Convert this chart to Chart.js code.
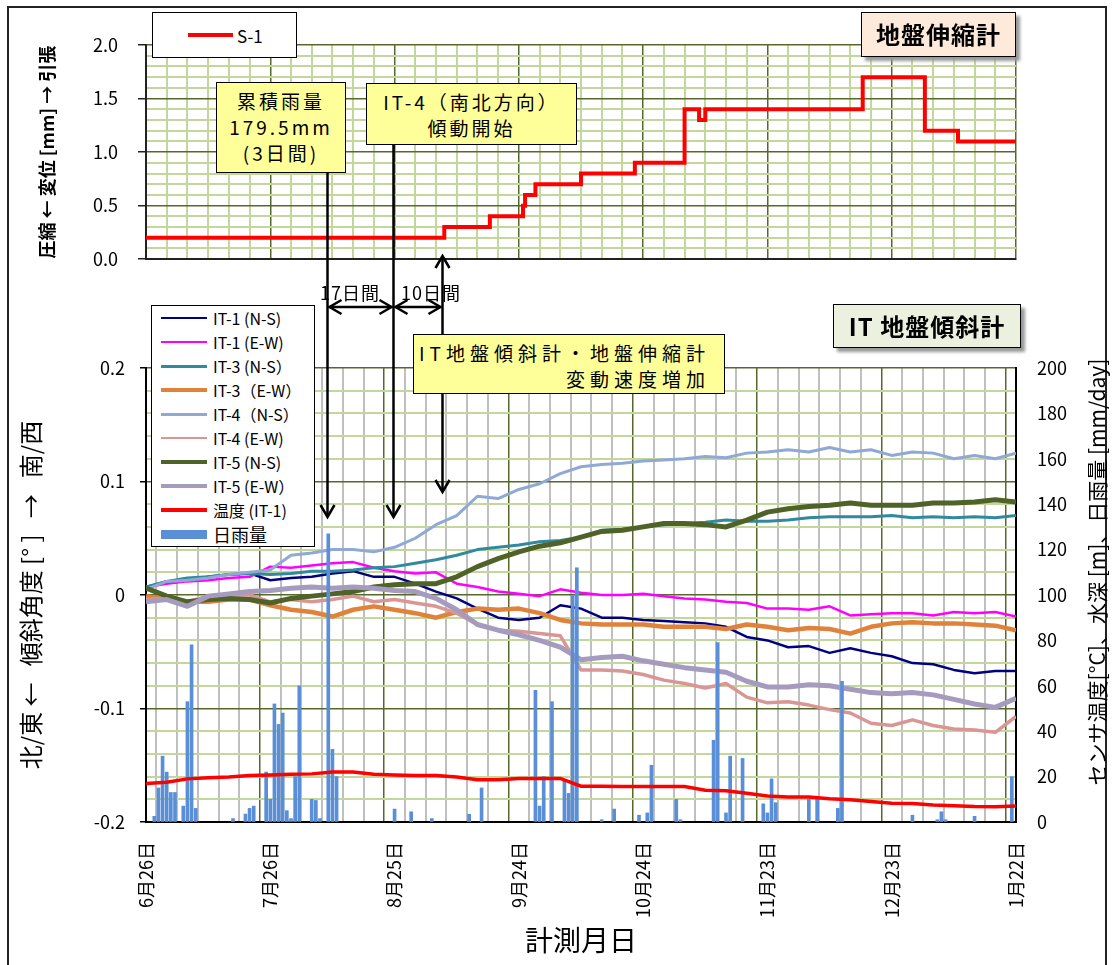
<!DOCTYPE html>
<html lang="ja">
<head>
<meta charset="utf-8">
<title>地盤伸縮計・IT 地盤傾斜計</title>
<script src="https://cdn.jsdelivr.net/npm/chart.js@4.4.1/dist/chart.umd.min.js"></script>
<style>
  html, body { margin: 0; padding: 0; background: #fff; }
  body { font-family: 'Noto Sans CJK JP', 'Noto Sans', sans-serif; color: #000; }
  #page { position: relative; width: 1115px; height: 965px; overflow: hidden; }
  .frame { position: absolute; left: 7px; top: 6px; width: 1100px; height: 990px; border: 2px solid #222; box-sizing: border-box; }
  canvas { position: absolute; left: 0; }
  #topChart { top: 0; }
  #itChart { top: 300px; }
  #overlay { top: 0; pointer-events: none; }
  .box { position: absolute; box-sizing: border-box; border: 1.5px solid #000; background: #fff; }
  .note { background: #FFFF99; text-align: center; font-size: 19px; letter-spacing: 3px; line-height: 26px; padding-top: 5px; }
  .title { font-weight: bold; font-size: 24px; text-align: center; line-height: 42px; letter-spacing: 1px; box-shadow: 4px 4px 3px #999; }
  .legend-row { height: 24px; display: flex; align-items: center; font-size: 16px; white-space: nowrap; }
  .sample { display: inline-block; width: 46px; margin-right: 6px; }
  .span-label { position: absolute; font-size: 18px; letter-spacing: 1px; transform: translate(-50%, -50%); white-space: nowrap; }
  #rightTitle { position: absolute; left: 796px; top: 558px; width: 600px; height: 28px; line-height: 28px;
                font-size: 21px; text-align: center; white-space: nowrap; transform: rotate(-90deg); }
</style>
</head>
<body>
<div id="page">
  <div class="frame"></div>
  <canvas id="topChart" width="1115" height="290"></canvas>
  <canvas id="itChart" width="1115" height="665"></canvas>
  <canvas id="overlay" width="1115" height="965"></canvas>

  <div class="box" id="legendTop" style="left:152px;top:12px;width:145px;height:46px;"></div>
  <div class="box title" style="left:861px;top:12px;width:155px;height:45px;background:#FDEADA;">地盤伸縮計</div>
  <div class="box title" style="left:833px;top:304px;width:188px;height:44px;background:#EBF1DE;">IT 地盤傾斜計</div>
  <div class="box" id="legendIT" style="left:151px;top:305px;width:164px;height:242px;padding-left:9px;"></div>

  <div class="box note" style="left:216px;top:82px;width:130px;height:91px;">累積雨量<br>179.5mm<br>(3日間)</div>
  <div class="box note" style="left:366px;top:83px;width:211px;height:62px;">IT-4（南北方向）<br>傾動開始</div>
  <div class="box note" style="left:413px;top:334px;width:312px;height:60px;text-align:right;padding-right:14px;letter-spacing:5px;">IT地盤傾斜計・地盤伸縮計<br>変動速度増加</div>

  <div class="span-label" style="left:350px;top:292px;">17日間</div>
  <div class="span-label" style="left:431px;top:292px;">10日間</div>
  <div id="rightTitle">センサ温度[°C]、水深 [m]、日雨量 [mm/day]</div>
</div>

<script>
/* ---------- data (x = days since 6/26) ---------- */
const tickLabels = ['6月26日', '7月26日', '8月25日', '9月24日', '10月24日', '11月23日', '12月23日', '1月22日'];

// S-1 ground extensometer, step changes
const s1Days   = [0, 72, 83, 91, 91.5, 94, 105, 118, 130, 133.5, 135, 173, 188, 196, 210];
const s1Values = [0.2, 0.3, 0.4, 0.5, 0.6, 0.7, 0.8, 0.9, 1.4, 1.3, 1.4, 1.7, 1.2, 1.1, 1.1];

// IT inclinometers, read every 5 days
const sampleDays = [0, 5, 10, 15, 20, 25, 30, 35, 40, 45, 50, 55, 60, 65, 70, 75, 80, 85, 90, 95, 100,
  105, 110, 115, 120, 125, 130, 135, 140, 145, 150, 155, 160, 165, 170, 175, 180, 185, 190, 195, 200, 205, 210];

const it1NS = [0.007, 0.012, 0.013, 0.016, 0.018, 0.019, 0.013, 0.015, 0.016, 0.019, 0.021, 0.016, 0.016, 0.010, 0.003,
  -0.003, -0.012, -0.020, -0.022, -0.020, -0.009, -0.012, -0.020, -0.020, -0.022, -0.023, -0.024, -0.025, -0.028,
  -0.037, -0.040, -0.046, -0.045, -0.051, -0.047, -0.051, -0.054, -0.060, -0.061, -0.066, -0.069, -0.067, -0.067];
const it1EW = [0.007, 0.010, 0.012, 0.013, 0.015, 0.016, 0.025, 0.024, 0.026, 0.028, 0.029, 0.024, 0.021, 0.019, 0.020,
  0.010, 0.007, 0.003, 0.001, -0.001, 0.005, 0.002, 0.000, 0.000, 0.001, -0.001, -0.003, -0.004, -0.006,
  -0.007, -0.012, -0.012, -0.013, -0.010, -0.018, -0.017, -0.016, -0.016, -0.018, -0.015, -0.016, -0.015, -0.019];
const it3NS = [0.007, 0.012, 0.015, 0.016, 0.018, 0.019, 0.018, 0.019, 0.021, 0.021, 0.022, 0.024, 0.025, 0.028, 0.031,
  0.035, 0.040, 0.042, 0.044, 0.047, 0.048, 0.051, 0.057, 0.058, 0.060, 0.062, 0.063, 0.064, 0.066,
  0.065, 0.065, 0.066, 0.068, 0.069, 0.069, 0.069, 0.070, 0.068, 0.069, 0.068, 0.069, 0.068, 0.070];
const it3EW = [-0.001, -0.004, -0.006, -0.006, -0.004, -0.004, -0.009, -0.013, -0.015, -0.019, -0.013, -0.010, -0.013, -0.016, -0.020,
  -0.015, -0.012, -0.013, -0.012, -0.016, -0.022, -0.025, -0.026, -0.026, -0.026, -0.028, -0.028, -0.028, -0.030,
  -0.026, -0.028, -0.031, -0.029, -0.030, -0.034, -0.028, -0.025, -0.024, -0.025, -0.025, -0.026, -0.027, -0.031];
const it4NS = [0.005, 0.012, 0.013, 0.015, 0.018, 0.020, 0.022, 0.035, 0.037, 0.040, 0.040, 0.038, 0.042, 0.050, 0.062,
  0.070, 0.087, 0.085, 0.093, 0.098, 0.107, 0.113, 0.115, 0.116, 0.118, 0.119, 0.120, 0.122, 0.121,
  0.125, 0.126, 0.128, 0.126, 0.130, 0.126, 0.128, 0.123, 0.126, 0.125, 0.120, 0.123, 0.120, 0.125];
const it4EW = [-0.004, -0.003, -0.006, -0.001, 0.000, 0.000, -0.006, -0.004, -0.006, -0.004, -0.001, -0.006, -0.004, -0.007, -0.010,
  -0.016, -0.026, -0.031, -0.032, -0.034, -0.036, -0.066, -0.066, -0.067, -0.070, -0.075, -0.078, -0.082, -0.078,
  -0.090, -0.095, -0.094, -0.097, -0.101, -0.104, -0.113, -0.115, -0.110, -0.115, -0.118, -0.119, -0.121, -0.107];
const it5NS = [0.006, -0.001, -0.006, -0.004, -0.003, -0.004, -0.007, -0.003, -0.001, 0.001, 0.003, 0.007, 0.009, 0.010, 0.010,
  0.016, 0.025, 0.032, 0.038, 0.043, 0.046, 0.051, 0.056, 0.057, 0.060, 0.063, 0.063, 0.062, 0.060,
  0.066, 0.073, 0.076, 0.078, 0.079, 0.081, 0.079, 0.079, 0.079, 0.081, 0.081, 0.082, 0.084, 0.082];
const it5EW = [-0.006, -0.004, -0.010, -0.001, 0.001, 0.003, 0.004, 0.006, 0.007, 0.006, 0.007, 0.006, 0.004, 0.003, -0.003,
  -0.013, -0.026, -0.031, -0.035, -0.040, -0.046, -0.057, -0.055, -0.054, -0.058, -0.061, -0.064, -0.066, -0.068,
  -0.076, -0.081, -0.081, -0.079, -0.080, -0.083, -0.086, -0.087, -0.086, -0.088, -0.092, -0.096, -0.099, -0.091];

// sensor temperature (right axis)
const tempIT1 = [17, 17.5, 19, 19.5, 19.8, 20.5, 20.7, 21, 21.2, 22, 22, 21, 20.7, 20.5, 20.5,
  19.8, 18.6, 18.6, 19.2, 19.2, 19.2, 15.8, 15.8, 15.6, 15.6, 15.6, 15.6, 14, 13.8,
  12.7, 11.5, 11, 11, 10.2, 9.8, 9, 8.3, 8.2, 7.5, 7.2, 6.8, 6.7, 7];

// daily rainfall (right axis), only rainy days
const rainDays = [2, 3, 4, 5, 6, 7, 9, 10, 11, 12, 21, 24, 25, 26, 29, 30, 31, 32, 33, 34,
  35, 36, 37, 40, 41, 42, 44, 45, 46, 60, 64, 69, 78, 81, 94, 95, 96, 98, 101, 102,
  103, 104, 110, 113, 119, 121, 122, 128, 129, 137, 138, 140, 141, 144, 149, 150, 151, 152, 160, 162,
  167, 168, 185, 191, 192, 193, 200, 209];
const rainValues = [2.5, 15, 29, 22, 13, 13, 7, 53, 78, 6, 1.5, 3.5, 6, 7, 22, 10, 52, 43, 48, 5,
  1.5, 20, 60, 10, 9.5, 1.5, 127, 32, 20, 5.7, 4.5, 1.5, 3.4, 15, 58, 7, 20, 53, 18, 12.6,
  100, 112, 1, 5.7, 3, 4, 25, 10, 1, 36, 79, 4, 29, 28, 8, 4, 19, 8.5, 10, 10,
  6, 62, 3, 1, 4.5, 1, 2.5, 20];

// annotation days: rain peak, IT-4 tilt start, speed increase
const markerDays = [43.8, 59.7, 71.4];

/* ---------- series styling ---------- */
const seriesNames  = ['IT-1 (N-S)', 'IT-1 (E-W)', 'IT-3 (N-S）', 'IT-3（E-W）', 'IT-4（N-S）', 'IT-4 (E-W)', 'IT-5 (N-S)', 'IT-5 (E-W）'];
const seriesData   = [it1NS, it1EW, it3NS, it3EW, it4NS, it4EW, it5NS, it5EW];
const seriesColors = ['#000080', '#FF00FF', '#31899E', '#E0823A', '#8FA9D4', '#D99694', '#4F6228', '#A59BBF'];
const seriesWidths = [2.5, 2.5, 3, 4.5, 3, 3.5, 5, 5];
const legendWidths = [2, 2, 3, 4, 3, 2, 4, 4];
const tempColor = '#FF0000';
const rainColor = '#5A8FD8';

const majorGreen = '#56692B';
const minorGreen = '#C4D79B';
const minorGrey = '#BFBFBF';

Chart.defaults.font.family = "'Noto Sans CJK JP', 'Noto Sans', sans-serif";
Chart.defaults.color = '#000';

const pts = (xs, ys) => xs.map((x, i) => ({ x, y: ys[i] }));
const isMajorDay = c => c.tick && c.tick.value % 30 === 0;

/* ---------- top chart: 地盤伸縮計 ---------- */
const topChart = new Chart(document.getElementById('topChart'), {
  type: 'line',
  data: {
    datasets: [{
      label: 'S-1',
      data: pts(s1Days, s1Values),
      borderColor: tempColor,
      borderWidth: 4,
      pointRadius: 0,
      stepped: true
    }]
  },
  options: {
    responsive: false,
    animation: false,
    layout: { padding: { left: 32, top: 45, right: 99, bottom: 0 } },
    plugins: { legend: { display: false }, tooltip: { enabled: false } },
    scales: {
      x: {
        type: 'linear', min: 0, max: 210,
        afterFit: s => { s.height = 20; },
        ticks: { display: false, stepSize: 5, autoSkip: false },
        grid: {
          drawTicks: false,
          color: c => isMajorDay(c) ? majorGreen : minorGreen,
          lineWidth: c => isMajorDay(c) ? 1.5 : 2
        },
        border: { color: '#222', width: 2 }
      },
      y: {
        min: 0, max: 2,
        afterFit: s => { s.width = 114; },
        ticks: {
          stepSize: 0.1, autoSkip: false, padding: 20, font: { size: 18 },
          callback: v => Math.round(v * 10) % 5 === 0 ? v.toFixed(1) : ''
        },
        grid: {
          tickLength: 8,
          color: c => c.tick && Math.round(c.tick.value * 10) % 5 === 0 ? majorGreen : minorGreen,
          tickColor: c => c.tick && Math.round(c.tick.value * 10) % 5 === 0 ? '#222' : 'rgba(0,0,0,0)',
          lineWidth: c => c.tick && Math.round(c.tick.value * 10) % 5 === 0 ? 1.5 : 2
        },
        border: { color: '#222', width: 2 },
        title: { display: true, text: '圧縮 ← 変位 [mm] → 引張', font: { size: 18, weight: 'bold' } }
      }
    }
  }
});

/* ---------- bottom chart: IT 地盤傾斜計 ---------- */
const itDatasets = seriesNames.map((name, i) => ({
  type: 'line',
  label: name,
  data: pts(sampleDays, seriesData[i]),
  borderColor: seriesColors[i],
  borderWidth: seriesWidths[i],
  pointRadius: 0,
  borderJoinStyle: 'round',
  yAxisID: 'y',
  order: 9 - i
}));

itDatasets.push({
  type: 'line',
  label: '温度 (IT-1)',
  data: pts(sampleDays, tempIT1),
  borderColor: tempColor,
  borderWidth: 3.5,
  pointRadius: 0,
  yAxisID: 'y2',
  order: 0
});

itDatasets.push({
  type: 'bar',
  label: '日雨量',
  data: pts(rainDays, rainValues),
  backgroundColor: rainColor,
  barThickness: 3,
  yAxisID: 'y2',
  order: 1
});

const itChart = new Chart(document.getElementById('itChart'), {
  type: 'line',
  data: { datasets: itDatasets },
  options: {
    responsive: false,
    animation: false,
    layout: { padding: { left: 12, top: 68, right: 0, bottom: 0 } },
    plugins: { legend: { display: false }, tooltip: { enabled: false } },
    scales: {
      x: {
        type: 'linear', min: 0, max: 210, offset: false,
        afterFit: s => { s.height = 143; },
        ticks: {
          stepSize: 5, autoSkip: false, minRotation: 90, maxRotation: 90, padding: 20,
          font: { size: 18 },
          callback: v => v % 30 === 0 ? tickLabels[v / 30] : ''
        },
        grid: {
          drawTicks: false,
          color: c => isMajorDay(c) ? majorGreen : minorGrey,
          lineWidth: c => isMajorDay(c) ? 1.5 : 2
        },
        border: { color: '#000', width: 2 },
        title: { display: true, text: '計測月日', font: { size: 28 }, padding: { top: 0, bottom: 8 } }
      },
      y: {
        position: 'left', min: -0.2, max: 0.2,
        afterFit: s => { s.width = 134; },
        ticks: {
          stepSize: 0.02, autoSkip: false, padding: 15, font: { size: 18 },
          callback: v => {
            const r = Math.round(v * 100);
            return r % 10 === 0 ? (r === 0 ? '0' : (r / 100).toFixed(1)) : '';
          }
        },
        grid: {
          tickLength: 6,
          color: c => c.tick && Math.round(c.tick.value * 100) % 10 === 0 ? majorGreen : minorGreen,
          tickColor: c => c.tick && Math.round(c.tick.value * 100) % 10 === 0 ? '#000' : 'rgba(0,0,0,0)',
          lineWidth: c => c.tick && Math.round(c.tick.value * 100) % 10 === 0 ? 1.5 : 2
        },
        border: { color: '#000', width: 2 },
        title: { display: true, text: '北/東 ←   傾斜角度 [° ]   →   南/西', font: { size: 24 } }
      },
      y2: {
        position: 'right', min: 0, max: 200,
        afterFit: s => { s.width = 99; },
        ticks: { stepSize: 20, padding: 21, font: { size: 18 } },
        grid: { drawOnChartArea: false, drawTicks: false },
        border: { color: '#000', width: 2 }
      }
    }
  }
});

/* ---------- legends (html) ---------- */
const legendTop = document.getElementById('legendTop');
legendTop.innerHTML =
  '<div class="legend-row" style="height:44px;padding-left:35px;font-size:17px;">' +
  '<span class="sample" style="height:4px;width:45px;margin-right:4px;background:' + tempColor + '"></span>S-1</div>';

const legendIT = document.getElementById('legendIT');
const legendRows = seriesNames.map((name, i) =>
  '<div class="legend-row"><span class="sample" style="height:' + legendWidths[i] + 'px;background:' + seriesColors[i] + '"></span>' + name + '</div>');
legendRows.push('<div class="legend-row"><span class="sample" style="height:4px;background:' + tempColor + '"></span>温度 (IT-1)</div>');
legendRows.push('<div class="legend-row" style="font-size:18px;"><span class="sample" style="height:9px;background:' + rainColor + '"></span>日雨量</div>');
legendIT.innerHTML = legendRows.join('');

/* ---------- annotation arrows ---------- */
function arrowHead(ctx, x, y, dir) {
  const L = 12, W = 7;
  ctx.beginPath();
  if (dir === 'down')  { ctx.moveTo(x - W, y - L); ctx.lineTo(x, y); ctx.lineTo(x + W, y - L); }
  if (dir === 'up')    { ctx.moveTo(x - W, y + L); ctx.lineTo(x, y); ctx.lineTo(x + W, y + L); }
  if (dir === 'left')  { ctx.moveTo(x + L, y - W); ctx.lineTo(x, y); ctx.lineTo(x + L, y + W); }
  if (dir === 'right') { ctx.moveTo(x - L, y - W); ctx.lineTo(x, y); ctx.lineTo(x - L, y + W); }
  ctx.stroke();
}

function vLine(ctx, x, y1, y2) {
  ctx.beginPath(); ctx.moveTo(x, y1); ctx.lineTo(x, y2); ctx.stroke();
}

function drawArrows() {
  const ctx = document.getElementById('overlay').getContext('2d');
  const xs = itChart.scales.x;
  const [xa, xb, xc] = markerDays.map(d => Math.round(xs.getPixelForValue(d)) + 0.5);
  ctx.strokeStyle = '#000';
  ctx.lineWidth = 2.5;

  vLine(ctx, xa, 173, 517); arrowHead(ctx, xa, 517, 'down');
  vLine(ctx, xb, 145, 517); arrowHead(ctx, xb, 517, 'down');
  vLine(ctx, xc, 256, 492); arrowHead(ctx, xc, 256, 'up'); arrowHead(ctx, xc, 492, 'down');

  const yS = 307;
  ctx.beginPath(); ctx.moveTo(xa + 2, yS); ctx.lineTo(xb - 2, yS); ctx.stroke();
  arrowHead(ctx, xa + 2, yS, 'left'); arrowHead(ctx, xb - 2, yS, 'right');
  ctx.beginPath(); ctx.moveTo(xb + 2, yS); ctx.lineTo(xc - 2, yS); ctx.stroke();
  arrowHead(ctx, xb + 2, yS, 'left'); arrowHead(ctx, xc - 2, yS, 'right');
}
drawArrows();
</script>
</body>
</html>
